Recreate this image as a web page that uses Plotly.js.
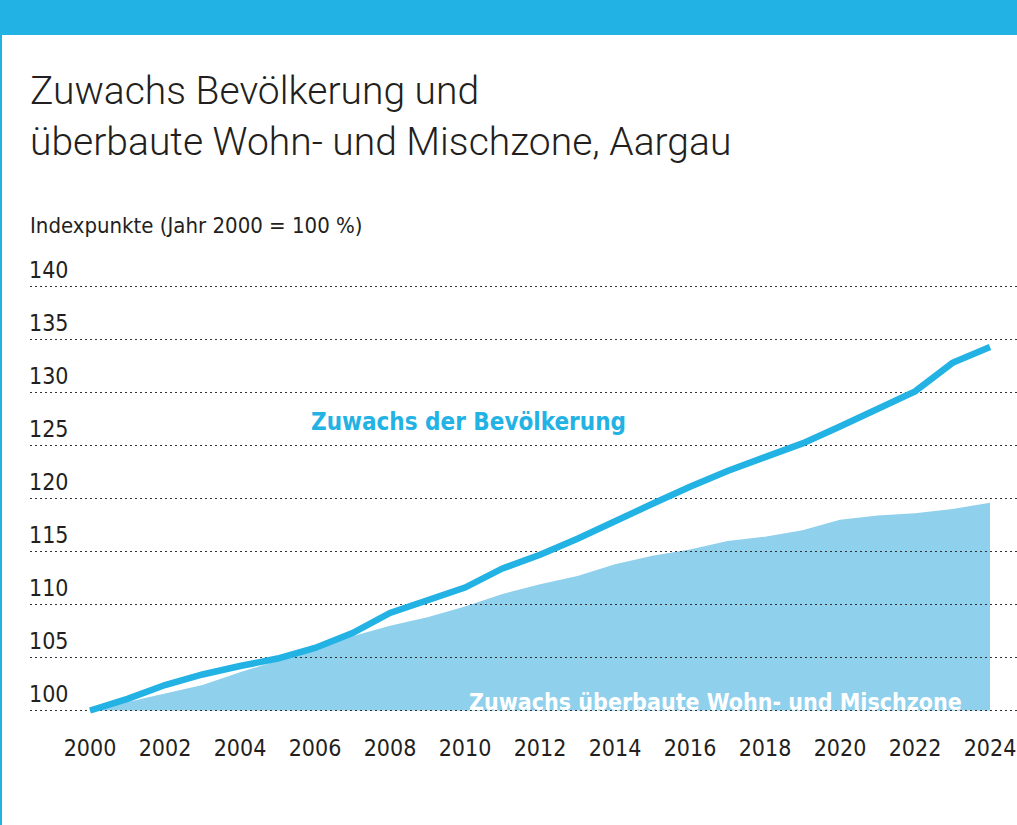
<!DOCTYPE html>
<html>
<head>
<meta charset="utf-8">
<script src="https://cdn.plot.ly/plotly-3.0.1.min.js"></script>
<style>
  html, body { margin: 0; padding: 0; background: #ffffff; }
  #chart { width: 1017px; height: 825px; }
</style>
</head>
<body>
<div id="chart"></div>
<script>
// ---- data ----
const years = [2000,2001,2002,2003,2004,2005,2006,2007,2008,2009,2010,2011,2012,2013,2014,2015,2016,2017,2018,2019,2020,2021,2022,2023,2024];
const bevoelkerung = [100,101.1,102.4,103.4,104.2,104.9,105.9,107.3,109.2,110.4,111.6,113.4,114.7,116.2,117.9,119.5,121.1,122.6,123.9,125.2,126.8,128.4,130.1,132.8,134.3];
const wohnMischzone = [100,100.8,101.6,102.4,103.6,104.7,105.7,107.0,108.0,108.8,109.8,111.0,111.9,112.7,113.8,114.6,115.2,116.0,116.4,117.0,118.0,118.4,118.6,119.0,119.6];
const indexBasis = [100,100,100,100,100,100,100,100,100,100,100,100,100,100,100,100,100,100,100,100,100,100,100,100,100];
const xTickVals = [2000,2002,2004,2006,2008,2010,2012,2014,2016,2018,2020,2022,2024];
const yTickVals = [100,105,110,115,120,125,130,135,140];
const titleText = 'Zuwachs Bevölkerung und<br>überbaute Wohn- und Mischzone, Aargau';
const subtitleText = 'Indexpunkte (Jahr 2000 = 100 %)';
const labelBev = 'Zuwachs der Bevölkerung';
const labelZone = 'Zuwachs überbaute Wohn- und Mischzone';

// ---- style ----
const BLUE = '#22b2e3';
const AREA = '#8fd0ec';
const TEXT = '#231f20';
const NARROW = '"DejaVu Sans Condensed", "Liberation Sans Narrow", sans-serif';
const XR = [1998.4, 2024.72];
const YPAD = 4.5 / 10.6;
const YR = [100 - YPAD, 140 + YPAD];
const T = 282, H = 433, B = 825 - T - H;   // plot area: top 282, height 433
const PB = T + H;                          // plot bottom in px

const traces = [
  {
    x: years, y: indexBasis, xaxis: 'x', yaxis: 'y',
    type: 'scatter', mode: 'lines', line: {color: 'rgba(0,0,0,0)', width: 0}, hoverinfo: 'skip'
  },
  {
    x: years, y: wohnMischzone, xaxis: 'x', yaxis: 'y',
    type: 'scatter', mode: 'lines', fill: 'tonexty',
    fillcolor: AREA, line: {color: AREA, width: 0}, hoverinfo: 'skip'
  },
  {
    x: years, y: bevoelkerung, xaxis: 'x2', yaxis: 'y2',
    type: 'scatter', mode: 'lines', cliponaxis: false,
    line: {color: BLUE, width: 6.5, shape: 'linear'}, hoverinfo: 'skip'
  }
];

const layout = {
  width: 1017, height: 825,
  margin: {l: 30, r: 0, t: T, b: B, pad: 0},
  paper_bgcolor: '#ffffff', plot_bgcolor: 'rgba(0,0,0,0)',
  showlegend: false,
  title: {
    text: titleText, xref: 'container', yref: 'container',
    x: 30/1017, xanchor: 'left', y: 1 - 104/825, yanchor: 'top',
    font: {family: 'Roboto, "Liberation Sans", sans-serif', size: 39, color: TEXT, weight: 300}
  },
  xaxis: {
    domain: [0, 1], range: XR, anchor: 'y',
    showgrid: false, zeroline: false, showline: false, ticks: '',
    tickvals: xTickVals, ticktext: xTickVals.map(String),
    ticklabelstandoff: 17, ticklabeloverflow: 'allow',
    tickfont: {family: NARROW, size: 23, color: TEXT}
  },
  yaxis: {
    domain: [0, 1], range: YR, anchor: 'x',
    showgrid: false, zeroline: false, showline: false, showticklabels: false, ticks: ''
  },
  xaxis2: {
    domain: [0, 1], range: XR, anchor: 'y2',
    showgrid: false, zeroline: false, showline: false, showticklabels: false, ticks: ''
  },
  yaxis2: {
    domain: [0, 1], range: YR, anchor: 'x2',
    showgrid: true, gridcolor: '#333333', griddash: '1.6px,3.4px', gridwidth: 1,
    zeroline: false, showline: false, ticks: '',
    tickvals: yTickVals, ticktext: yTickVals.map(String),
    ticklabelposition: 'inside top', ticklabeloverflow: 'allow',
    ticklabelstandoff: -4,
    tickfont: {family: NARROW, size: 23, color: TEXT}
  },
  shapes: [
    {type: 'rect', xref: 'paper', yref: 'paper', x0: -30/987, x1: 1, y0: (PB-35)/H, y1: PB/H,
     fillcolor: BLUE, line: {width: 0}, layer: 'above'},
    {type: 'rect', xref: 'paper', yref: 'paper', x0: -30/987, x1: -28/987, y0: (PB-825)/H, y1: (PB-35)/H,
     fillcolor: BLUE, line: {width: 0}, layer: 'above'}
  ],
  annotations: [
    {text: subtitleText, xref: 'paper', yref: 'paper', x: -0.002, xanchor: 'left',
     y: (PB-225)/H, yanchor: 'middle', showarrow: false,
     font: {family: NARROW, size: 22, color: TEXT}},
    {text: '<b>' + labelBev + '</b>', xref: 'x2', yref: 'y2', x: 2010.08, y: 127.2,
     xanchor: 'center', yanchor: 'middle', showarrow: false,
     font: {family: NARROW, size: 24, color: BLUE}},
    {text: '<b>' + labelZone + '</b>', xref: 'x2', yref: 'y2', x: 2016.69, y: 102.2,
     xanchor: 'center', yanchor: 'top', showarrow: false,
     font: {family: NARROW, size: 23, color: '#ffffff'}}
  ]
};

Plotly.newPlot('chart', traces, layout, {displayModeBar: false, staticPlot: true});
</script>
</body>
</html>
